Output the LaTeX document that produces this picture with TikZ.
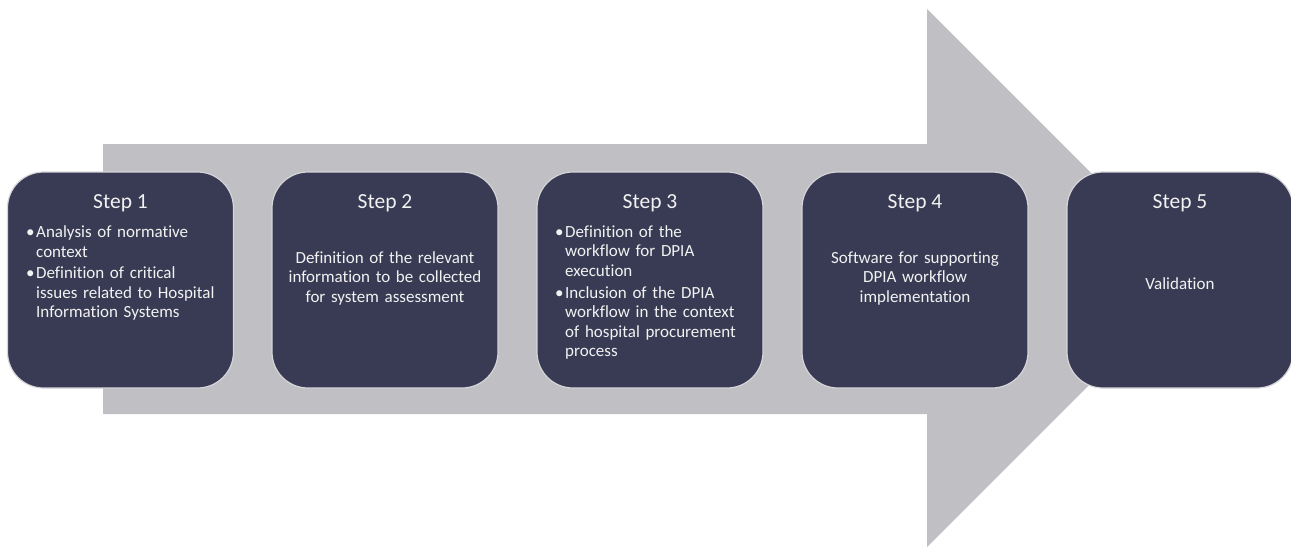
\documentclass[tikz,border=0pt]{standalone}
\usepackage{fontspec}
\setmainfont{Carlito}[Ligatures=NoCommon,RawFeature={-liga;-clig;-dlig}]
\definecolor{arrowgray}{RGB}{192,192,196}
\definecolor{boxfill}{RGB}{56,59,83}
\definecolor{boxline}{RGB}{214,214,218}
\definecolor{txtcol}{RGB}{242,242,242}
\newcommand\stepbullet{\leavevmode\llap{•\hspace{1.5pt}}}
\begin{document}
\begin{tikzpicture}[x=1pt,y=-1pt,
  stepbox/.style={draw=boxline, line width=1.2pt, fill=boxfill, rounded corners=36pt,
    minimum width=226pt, minimum height=216pt, inner sep=0pt},
  steptitle/.style={text=txtcol, font=\fontsize{21.5}{25}\selectfont, anchor=base, inner sep=0pt},
  stepbody/.style={text=txtcol, font=\fontsize{17}{19.5}\selectfont, inner sep=0pt,
    anchor=base west, text width=200pt, align=left},
  stepcbody/.style={text=txtcol, font=\fontsize{17}{19.5}\selectfont, inner sep=0pt,
    anchor=base, text width=220pt, align=center}]
\useasboundingbox (0,0) rectangle (1291,547);
\fill[white] (0,0) rectangle (1291,547);
% big arrow
\fill[arrowgray] (103,144) -- (927,144) -- (927,9) -- (1196,278) -- (927,547)
  -- (927,414) -- (103,414) -- cycle;
% boxes
\node[stepbox] (s1) at (120.5,280) {};
\node[stepbox] (s2) at (385,280) {};
\node[stepbox] (s3) at (650,280) {};
\node[stepbox] (s4) at (915,280) {};
\node[stepbox] (s5) at (1180,280) {};
% titles
\node[steptitle] (t1) at (120.5,208) {Step 1};
\node[steptitle] (t2) at (385,208) {Step 2};
\node[steptitle] (t3) at (650,208) {Step 3};
\node[steptitle] (t4) at (915,208) {Step 4};
\node[steptitle] (t5) at (1180,208) {Step 5};
% bodies
\node[stepbody] (b1) at (36,237.5) {\stepbullet Analysis of normative\\ context\\[2pt]\stepbullet Definition of critical\\ issues related to Hospital\\ Information Systems};
\node[stepcbody] (b2) at (385,263.3) {Definition of the relevant\\ information to be collected\\ for system assessment};
\node[stepbody] (b3) at (565,237.3) {\stepbullet Definition of the\\ workflow for DPIA\\ execution\\[2.5pt]\stepbullet Inclusion of the DPIA\\ workflow in the context\\ of hospital procurement\\ process};
\node[stepcbody] (b4) at (915,263.3) {Software for supporting\\ DPIA workflow\\ implementation};
\node[stepcbody] (b5) at (1180,289) {Validation};
\end{tikzpicture}
\end{document}
